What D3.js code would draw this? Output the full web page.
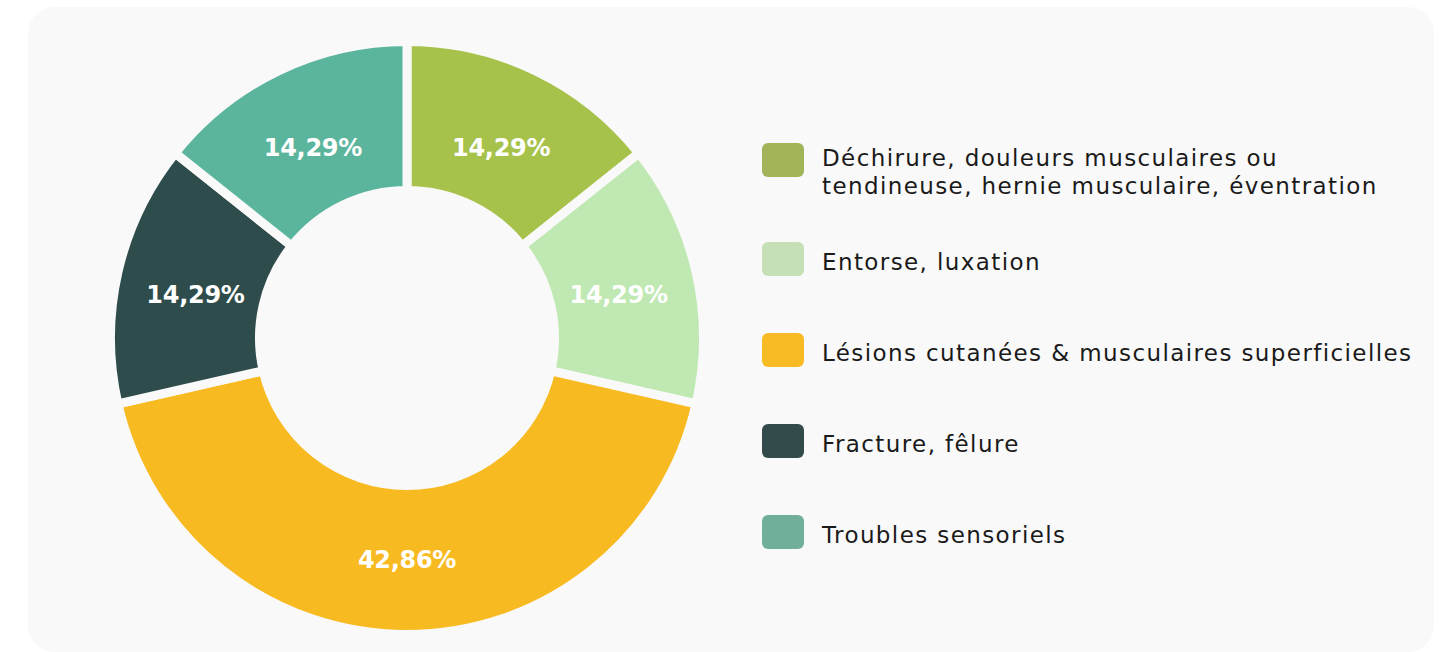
<!DOCTYPE html>
<meta charset="utf-8">
<title>Donut</title>
<head>
  <script src="https://d3js.org/d3.v7.min.js"></script>
  <style>
    body { margin: 0; background: #fff; }
  </style>
</head>
<body>
  <div id="chart"></div>
</body>
<script>
    // data
    var categories = [
      "Déchirure, douleurs musculaires ou|tendineuse, hernie musculaire, éventration",
      "Entorse, luxation",
      "Lésions cutanées & musculaires superficielles",
      "Fracture, fêlure",
      "Troubles sensoriels"
    ];
    var counts = [1, 1, 3, 1, 1];
    var sliceColors = ["#a7c24a", "#c0e8b3", "#f8ba21", "#2e4c4b", "#5bb59d"];
    var legendColors = ["#a1b457", "#c5dfb7", "#f8bb23", "#344b4c", "#70b09b"];

    var width = 1452, height = 652;
    var bg = "#f9f9f9";

    var svg = d3.select("#chart")
      .append("svg")
        .attr("width", width)
        .attr("height", height);

    // card background
    svg.append("rect")
        .attr("x", 28)
        .attr("y", 7)
        .attr("width", 1406)
        .attr("height", 645)
        .attr("rx", 26)
        .style("fill", bg);

    var data = categories.map(function(c, i) {
      return { name: c, value: counts[i], color: sliceColors[i], legend: legendColors[i] };
    });
    var total = d3.sum(counts);

    var gap = 9;
    var cx = 407, cy = 338;
    var outer = 292 + gap / 2, inner = 152 - gap / 2;

    var pie = d3.pie()
        .value(function(d) { return d.value; })
        .sort(null);

    var arc = d3.arc()
        .innerRadius(inner)
        .outerRadius(outer);

    var labelArc = d3.arc()
        .innerRadius(217)
        .outerRadius(217);

    var g = svg.append("g")
        .attr("transform", "translate(" + cx + "," + cy + ")");

    var arcs = pie(data);

    g.selectAll("path")
      .data(arcs)
      .enter()
      .append("path")
        .attr("d", arc)
        .style("fill", function(d) { return d.data.color; })
        .style("stroke", bg)
        .style("stroke-width", gap);

    var fmt = function(v) {
      return (v / total * 100).toFixed(2).replace(".", ",") + "%";
    };

    g.selectAll("text.pct")
      .data(arcs)
      .enter()
      .append("text")
        .attr("class", "pct")
        .attr("transform", function(d) { return "translate(" + labelArc.centroid(d) + ")"; })
        .attr("text-anchor", "middle")
        .attr("dy", "0.55em")
        .style("font-family", "'DejaVu Sans', sans-serif")
        .style("font-weight", "bold")
        .style("font-size", "24px")
        .style("letter-spacing", "-0.3px")
        .style("fill", "#fff")
        .text(function(d) { return fmt(d.data.value); });

    // legend
    var legend = svg.append("g");
    var y = 166;
    data.forEach(function(d) {
      var lines = d.name.split("|");
      var item = legend.append("g");
      item.append("rect")
          .attr("x", 762)
          .attr("y", y - 28 + 5 * (lines.length - 1))
          .attr("width", 42)
          .attr("height", 34)
          .attr("rx", 6)
          .style("fill", d.legend);
      var t = item.append("text")
          .attr("x", 822)
          .attr("y", y)
          .style("font-family", "'DejaVu Sans', sans-serif")
          .style("font-size", "23px")
          .style("letter-spacing", "1.4px")
          .style("fill", "#1a1a1a");
      lines.forEach(function(l, k) {
        t.append("tspan")
            .attr("x", 822)
            .attr("dy", k === 0 ? 0 : 28)
            .text(l);
      });
      y += 91 + 13 * (lines.length - 1);
    });
</script>
